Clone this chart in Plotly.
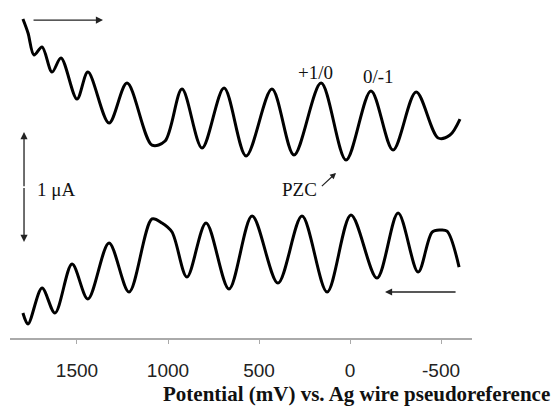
import plotly.graph_objects as go

# Forward scan (top curve): potential (mV) and current (uA, arbitrary offset)
fwd_mv = [1797, 1769, 1736, 1692, 1637, 1588, 1500, 1440, 1324, 1225, 1088, 1016,
          923, 813, 692, 571, 429, 308, 159, 22, -115, -236, -363, -484, -549, -604]
fwd_ua = [2.917, 2.789, 2.587, 2.661, 2.431, 2.560, 2.183, 2.431, 1.963, 2.330, 1.761, 1.798,
          2.275, 1.734, 2.284, 1.661, 2.275, 1.670, 2.330, 1.624, 2.257, 1.716, 2.248, 1.826, 1.853, 2.000]

# Reverse scan (bottom curve)
rev_mv = [1797, 1769, 1692, 1621, 1527, 1440, 1324, 1214, 1088, 1033, 978, 896,
          791, 665, 538, 396, 264, 126, -5, -148, -264, -374, -451, -495, -533, -599]
rev_ua = [0.220, 0.119, 0.450, 0.220, 0.670, 0.349, 0.862, 0.413, 1.083, 1.046, 0.963, 0.550,
          1.046, 0.440, 1.110, 0.495, 1.110, 0.413, 1.119, 0.541, 1.138, 0.596, 0.963, 0.982, 0.972, 0.642]

tick_vals = [1500, 1000, 500, 0, -500]
tick_text = ["1500", "1000", "500", "0", "-500"]

x_title = "Potential (mV) vs. Ag wire pseudoreference"

fig = go.Figure()
for xs, ys in [(fwd_mv, fwd_ua), (rev_mv, rev_ua)]:
    fig.add_trace(go.Scatter(x=xs, y=ys, mode="lines",
                             line=dict(color="black", width=3, shape="spline", smoothing=0.9),
                             hoverinfo="skip", showlegend=False))

serif = "Liberation Serif, Times New Roman, serif"
ann = []
arrow_col = "#222222"
# scan direction arrows
ann.append(dict(x=1357, y=2.908, ax=1747, ay=2.908, xref="x", yref="y", axref="x", ayref="y",
                showarrow=True, arrowhead=2, arrowsize=1.1, arrowwidth=1.3, arrowcolor=arrow_col, text=""))
ann.append(dict(x=-192, y=0.413, ax=-588, ay=0.413, xref="x", yref="y", axref="x", ayref="y",
                showarrow=True, arrowhead=2, arrowsize=1.1, arrowwidth=1.3, arrowcolor=arrow_col, text=""))
# 1 uA scale bar (double arrow)
ann.append(dict(x=1791, y=1.881, ax=1791, ay=1.37, xref="x", yref="y", axref="x", ayref="y",
                showarrow=True, arrowhead=2, arrowsize=1.1, arrowwidth=1.3, arrowcolor=arrow_col, text=""))
ann.append(dict(x=1791, y=0.872, ax=1791, ay=1.38, xref="x", yref="y", axref="x", ayref="y",
                showarrow=True, arrowhead=2, arrowsize=1.1, arrowwidth=1.3, arrowcolor=arrow_col, text=""))
ann.append(dict(x=1731, y=1.349, xref="x", yref="y", text="1 μA", showarrow=False,
                xanchor="left", yanchor="middle", font=dict(family=serif, size=19, color="#111")))
# labels
ann.append(dict(x=192, y=2.431, xref="x", yref="y", text="+1/0", showarrow=False,
                font=dict(family=serif, size=19, color="#111")))
ann.append(dict(x=-154, y=2.394, xref="x", yref="y", text="0/-1", showarrow=False,
                font=dict(family=serif, size=19, color="#111")))
ann.append(dict(x=277, y=1.349, xref="x", yref="y", text="PZC", showarrow=False,
                font=dict(family=serif, size=19, color="#111")))
ann.append(dict(x=77, y=1.505, ax=163, ay=1.372, xref="x", yref="y", axref="x", ayref="y",
                showarrow=True, arrowhead=2, arrowsize=1, arrowwidth=1.2, arrowcolor=arrow_col, text=""))
# x-axis title
ann.append(dict(x=(552 - 10) / 462, y=(338 - 394) / 338, xref="paper", yref="paper",
                text="<b>" + x_title + "</b>", showarrow=False, xanchor="right", yanchor="middle",
                font=dict(family=serif, size=21, color="#111")))

fig.update_layout(
    width=555, height=406,
    margin=dict(l=10, r=83, t=0, b=68),
    paper_bgcolor="white", plot_bgcolor="white",
    annotations=ann,
    xaxis=dict(range=[1868, -670], tickvals=tick_vals, ticktext=tick_text,
               showgrid=False, zeroline=False, showline=True, linecolor="#aaaaaa", linewidth=1.5,
               ticks="outside", ticklen=4, tickwidth=1, tickcolor="#aaaaaa",
               ticklabelstandoff=10,
               tickfont=dict(family="Liberation Sans, Arial, sans-serif", size=19, color="#222")),
    yaxis=dict(range=[-0.009, 3.092], visible=False, showgrid=False, zeroline=False),
)

fig.write_html("out.html")
